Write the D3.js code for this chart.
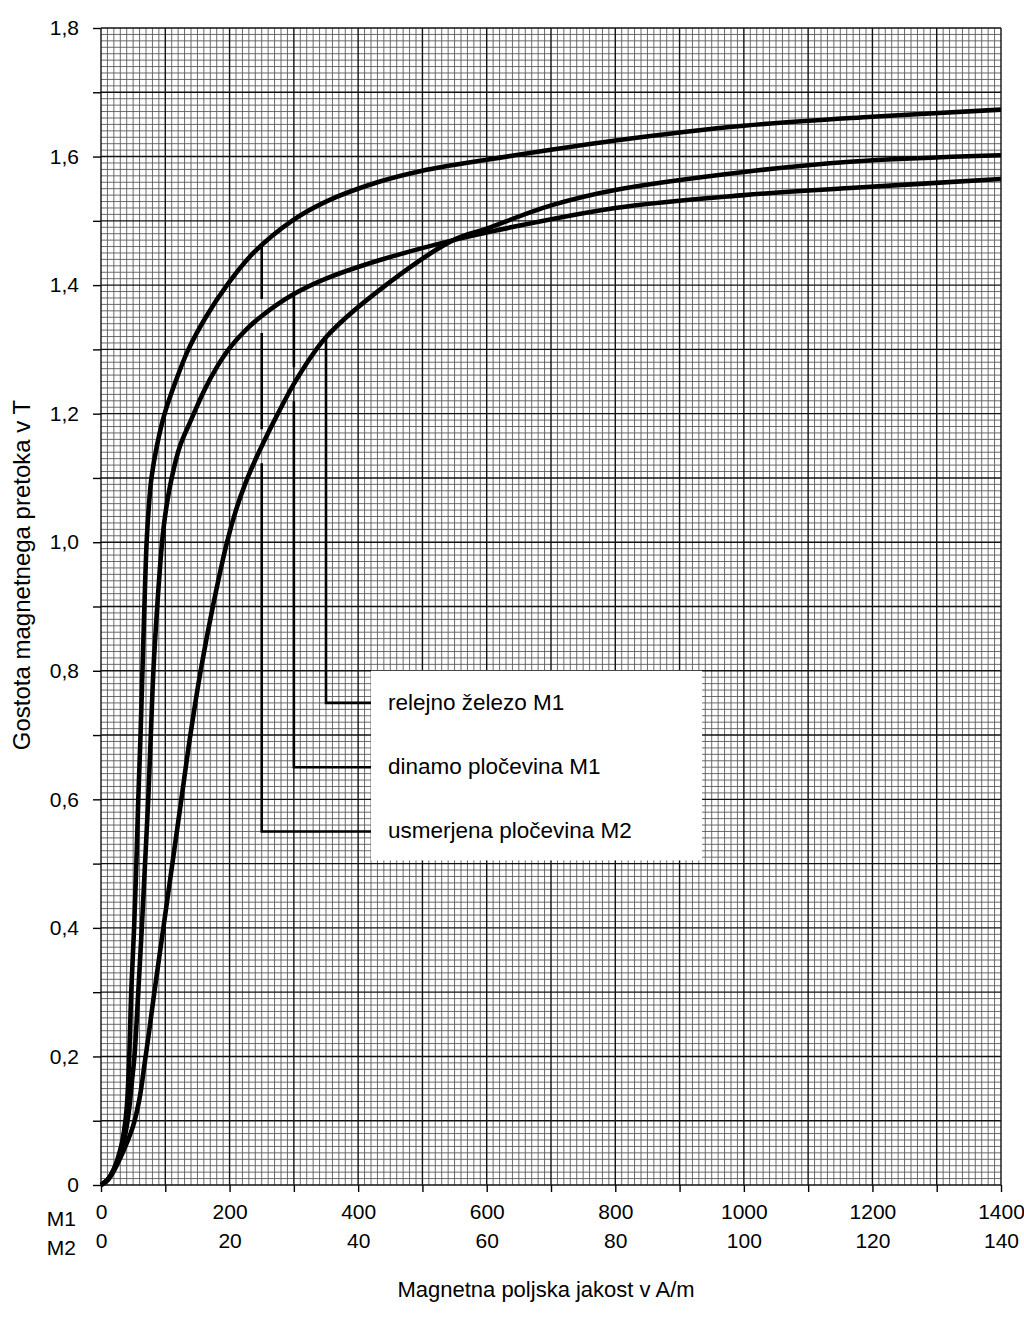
<!DOCTYPE html>
<html>
<head>
<meta charset="utf-8">
<script src="https://cdn.jsdelivr.net/npm/d3@7"></script>
<style>
	body { margin: 0; background: #fff; }
	svg { display: block; font-family: "Liberation Sans", Arial, sans-serif; }
	.fine { stroke: #5a5a5a; stroke-width: 0.9; }
	.major { stroke: #111; stroke-width: 1.4; }
	.curve { fill: none; stroke: #000; stroke-width: 4.6; stroke-linejoin: round; }
	.leader { fill: none; stroke: #000; stroke-width: 2.6; }
	.axis path { display: none; }
	.axis line { stroke: #000; stroke-width: 1.4; }
	.axis text { fill: #000; font-family: "Liberation Sans", Arial, sans-serif; }
</style>
</head>
<body>
<svg id="chart" width="1024" height="1319"></svg>
<script>
// B-H curves, [H, B]; M1 curves in A/m on the 0-1400 scale, M2 on the 0-140 scale
const relejnoM1 = [
	[0, 0], [10, 0.007], [20, 0.022], [30, 0.042], [40, 0.065], [50, 0.092], [60, 0.135],
	[68, 0.19], [75, 0.24], [83, 0.3], [97, 0.4], [111, 0.5], [125, 0.6], [139, 0.7],
	[155, 0.8], [174, 0.9], [196, 1.0], [210, 1.05], [224, 1.09], [240, 1.128],
	[255, 1.16], [270, 1.19], [304, 1.253], [351, 1.32], [434, 1.393], [548, 1.47],
	[600, 1.488], [700, 1.524], [800, 1.548], [1000, 1.576], [1165, 1.592], [1400, 1.602]
];
const dinamoM1 = [
	[0, 0], [10, 0.008], [20, 0.024], [30, 0.05], [38, 0.08], [44, 0.12], [48, 0.16],
	[52, 0.2], [58, 0.3], [63.5, 0.4], [68.5, 0.5], [73.5, 0.6], [77.5, 0.7], [81.5, 0.8],
	[87.5, 0.9], [95, 1.0], [101, 1.05], [110, 1.1], [123, 1.15], [140, 1.19],
	[160, 1.235], [180, 1.272], [200, 1.302], [225, 1.33], [250, 1.352], [300, 1.386],
	[350, 1.41], [434, 1.439], [548, 1.47], [600, 1.482], [800, 1.52], [1000, 1.54],
	[1165, 1.551], [1400, 1.565]
];
const usmerjenaM2 = [
	[0, 0], [1.0, 0.008], [2.0, 0.025], [3.0, 0.055], [3.6, 0.085], [4.0, 0.12],
	[4.4, 0.2], [4.7, 0.3], [5.15, 0.4], [5.5, 0.5], [5.8, 0.6], [6.15, 0.7],
	[6.45, 0.8], [6.75, 0.9], [7.1, 1.0], [7.4, 1.05], [7.85, 1.1], [8.7, 1.15],
	[9.9, 1.2], [11.6, 1.25], [13.6, 1.3], [16.3, 1.35], [19.6, 1.4], [23.7, 1.45],
	[29.7, 1.5], [35, 1.53], [43, 1.56], [50, 1.578], [60, 1.595],
	[80, 1.625], [100, 1.648], [120, 1.662], [140, 1.673]
];

// axis ticks
const ticksM1 = d3.range(0, 1401, 200);
const ticksM2 = d3.range(0, 141, 20);
const ticksB = d3.range(0, 1.81, 0.2);

// legend: label, where the leader leaves its curve (in the curve's own units), row level in T
const legendLabels = ["relejno železo M1", "dinamo pločevina M1", "usmerjena pločevina M2"];
const legendAnchorH = [350, 300, 25];
const legendRowB = [0.75, 0.65, 0.55];

var svg = d3.select("#chart");

var xM1 = d3.scaleLinear().domain([0, 1400]).range([101, 1001]);
var xM2 = d3.scaleLinear().domain([0, 140]).range([101, 1001]);
var y = d3.scaleLinear().domain([0, 1.8]).range([1185, 28]);

// GRID /////////////////////////////////////////////////////////////
var gGrid = svg.append("g");
var fineH = d3.range(0, 1401, 10);
var fineB = d3.range(0, 181).map(i => i / 100);

gGrid.selectAll(".fv")
	.data(fineH.filter(d => d % 100 !== 0))
	.enter().append("line")
	.attr("class", "fine")
	.attr("x1", d => xM1(d)).attr("x2", d => xM1(d))
	.attr("y1", y(0)).attr("y2", y(1.8));

gGrid.selectAll(".fh")
	.data(fineB.filter((d, i) => i % 10 !== 0))
	.enter().append("line")
	.attr("class", "fine")
	.attr("x1", xM1(0)).attr("x2", xM1(1400))
	.attr("y1", d => y(d)).attr("y2", d => y(d));

gGrid.selectAll(".mv")
	.data(d3.range(0, 1401, 100))
	.enter().append("line")
	.attr("class", "major")
	.attr("x1", d => xM1(d)).attr("x2", d => xM1(d))
	.attr("y1", y(0)).attr("y2", y(1.8));

gGrid.selectAll(".mh")
	.data(d3.range(0, 19).map(i => i / 10))
	.enter().append("line")
	.attr("class", "major")
	.attr("x1", xM1(0)).attr("x2", xM1(1400))
	.attr("y1", d => y(d)).attr("y2", d => y(d));

// AXES /////////////////////////////////////////////////////////////
var fmtB = d => d === 0 ? "0" : d3.format(".1f")(d).replace(".", ",");

svg.append("g")
	.attr("class", "axis")
	.attr("transform", "translate(" + xM1(0) + ",0)")
	.call(d3.axisLeft(y)
		.tickValues(d3.range(0, 19).map(i => i / 10))
		.tickSize(8)
		.tickPadding(14)
		.tickFormat(d => ticksB.some(t => Math.abs(t - d) < 1e-6) ? fmtB(d) : ""));

svg.append("g")
	.attr("class", "axis")
	.attr("transform", "translate(0," + y(0) + ")")
	.call(d3.axisBottom(xM1)
		.tickValues(d3.range(0, 1401, 100))
		.tickSize(7)
		.tickPadding(12)
		.tickFormat(d => ticksM1.includes(d) ? d : ""));

svg.append("g")
	.attr("class", "axis")
	.attr("transform", "translate(0," + (y(0) + 29) + ")")
	.call(d3.axisBottom(xM2)
		.tickValues(ticksM2)
		.tickSize(0)
		.tickPadding(19)
		.tickFormat(d => d));

svg.selectAll(".axis text").style("font-size", "21px");

svg.append("text").attr("x", 76).attr("y", 1226).attr("text-anchor", "end")
	.style("font-size", "21px").text("M1");
svg.append("text").attr("x", 76).attr("y", 1255).attr("text-anchor", "end")
	.style("font-size", "21px").text("M2");

svg.append("text")
	.attr("x", 546).attr("y", 1297)
	.attr("text-anchor", "middle")
	.style("font-size", "22px")
	.text("Magnetna poljska jakost v A/m");

svg.append("text")
	.attr("transform", "translate(30," + 575 + ") rotate(-90)")
	.attr("text-anchor", "middle")
	.style("font-size", "24px")
	.text("Gostota magnetnega pretoka v T");

// CURVES ///////////////////////////////////////////////////////////
var series = [
	{ data: relejnoM1, x: xM1 },
	{ data: dinamoM1, x: xM1 },
	{ data: usmerjenaM2, x: xM2 }
];

var line = d3.line().curve(d3.curveCatmullRom.alpha(0.5));

// B on a curve at pixel x (linear between the read points)
function bAtPixel(s, px) {
	var pts = s.data.map(d => [s.x(d[0]), d[1]]);
	for (var i = 1; i < pts.length; i++) {
		if (px <= pts[i][0]) {
			var t = (px - pts[i - 1][0]) / (pts[i][0] - pts[i - 1][0]);
			return pts[i - 1][1] + t * (pts[i][1] - pts[i - 1][1]);
		}
	}
	return pts[pts.length - 1][1];
}

// LEGEND ///////////////////////////////////////////////////////////
var boxLeft = xM1(420), boxRight = xM1(935);
svg.append("rect")
	.attr("x", boxLeft).attr("y", y(0.8))
	.attr("width", boxRight - boxLeft)
	.attr("height", y(0.505) - y(0.8))
	.attr("fill", "#fff");

var gLeader = svg.append("g");
var gap = 17;
legendLabels.forEach(function(label, i) {
	var s = series[i];
	var px = s.x(legendAnchorH[i]);
	var yTop = y(bAtPixel(s, px));
	var yRow = y(legendRowB[i]);

	// cut the vertical where it passes under another curve
	var cuts = series
		.filter((o, j) => j !== i)
		.map(o => y(bAtPixel(o, px)))
		.filter(c => c > yTop + gap && c < yRow)
		.sort((a, b) => a - b);
	var y0 = yTop;
	cuts.forEach(function(c) {
		gLeader.append("line").attr("class", "leader")
			.attr("x1", px).attr("x2", px).attr("y1", y0).attr("y2", c - gap);
		y0 = c + gap;
	});
	gLeader.append("path").attr("class", "leader")
		.attr("d", "M" + px + "," + y0 + "V" + yRow + "H" + boxLeft);

	svg.append("text")
		.attr("x", boxLeft + 17)
		.attr("y", yRow + 7)
		.style("font-size", "22.5px")
		.text(label);
});

svg.append("g").selectAll("path")
	.data(series)
	.enter().append("path")
	.attr("class", "curve")
	.attr("d", s => line(s.data.map(d => [s.x(d[0]), y(d[1])])));
</script>
</body>
</html>
